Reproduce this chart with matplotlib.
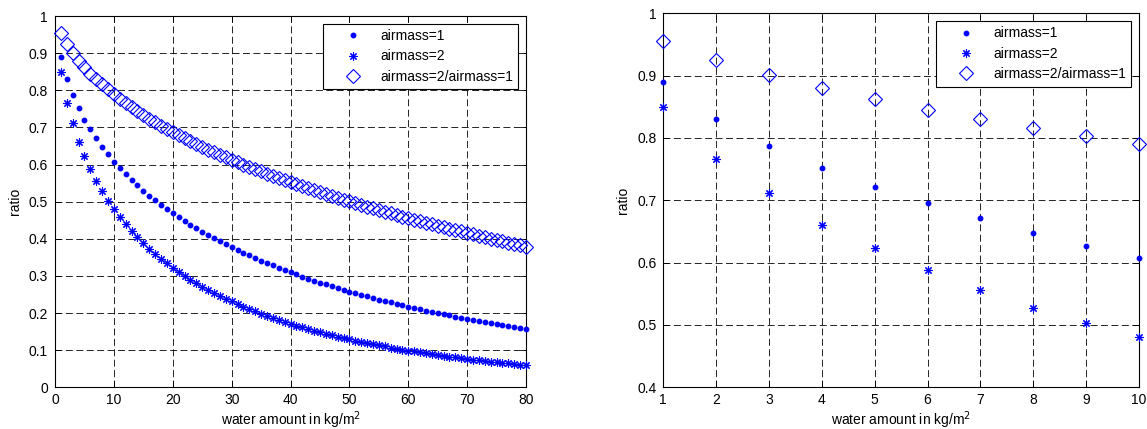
import matplotlib
matplotlib.use("Agg")
import matplotlib as mpl
import matplotlib.pyplot as plt

# water amount (kg/m^2) for the left panel
water = list(range(1, 81))

airmass1 = [
    0.890, 0.831, 0.787, 0.752, 0.721, 0.696, 0.671, 0.648, 0.627, 0.608,
    0.5903, 0.5737, 0.5582, 0.5436, 0.5296, 0.5163, 0.5035, 0.4914, 0.4797, 0.4686,
    0.4578, 0.4475, 0.4376, 0.4281, 0.4189, 0.4100, 0.4014, 0.3932, 0.3852, 0.3775,
    0.3699, 0.3625, 0.3553, 0.3483, 0.3415, 0.3348, 0.3283, 0.3220, 0.3158, 0.3098,
    0.3040, 0.2983, 0.2928, 0.2874, 0.2822, 0.2771, 0.2721, 0.2673, 0.2625, 0.2579,
    0.2534, 0.2490, 0.2446, 0.2404, 0.2363, 0.2323, 0.2284, 0.2246, 0.2209, 0.2172,
    0.2137, 0.2102, 0.2067, 0.2034, 0.2001, 0.1968, 0.1937, 0.1905, 0.1875, 0.1845,
    0.1815, 0.1786, 0.1758, 0.1730, 0.1703, 0.1676, 0.1649, 0.1623, 0.1598, 0.1573,
]

airmass2 = [
    0.849, 0.767, 0.711, 0.661, 0.623, 0.588, 0.556, 0.528, 0.503, 0.480,
    0.4590, 0.4393, 0.4212, 0.4043, 0.3884, 0.3735, 0.3594, 0.3462, 0.3336, 0.3218,
    0.3106, 0.3000, 0.2899, 0.2803, 0.2712, 0.2624, 0.2540, 0.2461, 0.2386, 0.2313,
    0.2242, 0.2174, 0.2109, 0.2046, 0.1985, 0.1926, 0.1869, 0.1815, 0.1762, 0.1711,
    0.1662, 0.1614, 0.1569, 0.1525, 0.1483, 0.1442, 0.1402, 0.1364, 0.1327, 0.1291,
    0.1256, 0.1223, 0.1190, 0.1159, 0.1128, 0.1099, 0.1070, 0.1043, 0.1016, 0.0990,
    0.0965, 0.0941, 0.0916, 0.0894, 0.0871, 0.0849, 0.0828, 0.0807, 0.0787, 0.0768,
    0.0748, 0.0729, 0.0711, 0.0693, 0.0676, 0.0659, 0.0642, 0.0626, 0.0610, 0.0595,
]

ratio = [
    0.955, 0.925, 0.901, 0.880, 0.862, 0.845, 0.830, 0.816, 0.803, 0.790,
    0.7776, 0.7658, 0.7545, 0.7437, 0.7334, 0.7234, 0.7138, 0.7045, 0.6955, 0.6868,
    0.6784, 0.6703, 0.6624, 0.6547, 0.6473, 0.6400, 0.6329, 0.6260, 0.6193, 0.6127,
    0.6062, 0.5998, 0.5936, 0.5874, 0.5813, 0.5753, 0.5694, 0.5636, 0.5578, 0.5522,
    0.5466, 0.5412, 0.5358, 0.5306, 0.5254, 0.5203, 0.5153, 0.5103, 0.5054, 0.5006,
    0.4958, 0.4912, 0.4865, 0.4820, 0.4775, 0.4730, 0.4686, 0.4642, 0.4599, 0.4557,
    0.4515, 0.4475, 0.4433, 0.4393, 0.4353, 0.4314, 0.4275, 0.4236, 0.4198, 0.4161,
    0.4121, 0.4082, 0.4044, 0.4006, 0.3968, 0.3930, 0.3893, 0.3856, 0.3820, 0.3784,
]

# zoom on the first ten values (right panel)
water_zoom = list(range(1, 11))
airmass1_zoom = [0.890, 0.831, 0.787, 0.752, 0.721, 0.696, 0.671, 0.648, 0.627, 0.608]
airmass2_zoom = [0.849, 0.767, 0.711, 0.661, 0.623, 0.588, 0.556, 0.528, 0.503, 0.480]
ratio_zoom = [0.955, 0.925, 0.901, 0.880, 0.862, 0.845, 0.830, 0.816, 0.803, 0.790]

labels = ["airmass=1", "airmass=2", "airmass=2/airmass=1"]
BLUE = (0, 0, 1)
ASTERISK = (8, 2, 0)

mpl.rcParams.update({
    "font.family": ["Liberation Sans", "DejaVu Sans"],
    "font.size": 10,
    "axes.linewidth": 0.8,
    "xtick.direction": "in",
    "ytick.direction": "in",
    "xtick.top": True,
    "ytick.right": True,
    "xtick.major.size": 4,
    "ytick.major.size": 4,
    "xtick.major.width": 0.6,
    "ytick.major.width": 0.6,
    "xtick.major.pad": 4,
    "ytick.major.pad": 5,
    "lines.scale_dashes": False,
})


def draw_panel(ax, x, a1, a2, r):
    ax.plot(x, a1, linestyle="none", marker="o", markersize=3.2, color=BLUE,
            label=labels[0], clip_on=False, zorder=3)
    ax.plot(x, a2, linestyle="none", marker=ASTERISK, markersize=6,
            markeredgewidth=0.8, color=BLUE, label=labels[1], clip_on=False, zorder=3)
    ax.plot(x, r, linestyle="none", marker="D", markersize=7, markeredgewidth=0.8,
            markerfacecolor="none", markeredgecolor=BLUE, label=labels[2],
            clip_on=False, zorder=3)
    ax.grid(True, color="black", linewidth=0.6, linestyle=(0, (5, 2.5)))
    ax.set_axisbelow(True)
    ax.set_xlabel("water amount in kg/m$^2$", labelpad=2)
    ax.set_ylabel("ratio", labelpad=5)
    leg = ax.legend(loc="upper right", fancybox=False, framealpha=1,
                    edgecolor="black", borderaxespad=0.55, borderpad=0.4,
                    handletextpad=0.2, handlelength=3.5, labelspacing=0.45)
    leg.get_frame().set_linewidth(0.8)


fig = plt.figure(figsize=(11.47, 4.29), dpi=100)

ax1 = fig.add_axes([0.048, 0.0972, 0.4106, 0.8655])
draw_panel(ax1, water, airmass1, airmass2, ratio)
ax1.set_xlim(0, 80)
ax1.set_ylim(0, 1)
ax1.set_xticks(range(0, 81, 10))
ax1.set_yticks([i / 10 for i in range(11)])
ax1.set_yticklabels(["0", "0.1", "0.2", "0.3", "0.4", "0.5", "0.6", "0.7", "0.8", "0.9", "1"])

ax2 = fig.add_axes([0.5783, 0.0972, 0.4147, 0.8718])
draw_panel(ax2, water_zoom, airmass1_zoom, airmass2_zoom, ratio_zoom)
ax2.set_xlim(1, 10)
ax2.set_ylim(0.4, 1)
ax2.set_xticks(range(1, 11))
ax2.set_yticks([0.4, 0.5, 0.6, 0.7, 0.8, 0.9, 1.0])
ax2.set_yticklabels(["0.4", "0.5", "0.6", "0.7", "0.8", "0.9", "1"])

fig.savefig("out.png", dpi=100)
